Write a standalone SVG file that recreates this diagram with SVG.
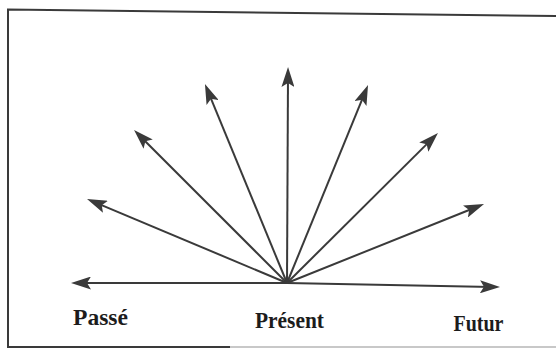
<svg xmlns="http://www.w3.org/2000/svg" width="556" height="349" viewBox="0 0 556 349">
  <style>
    .ray { stroke: #3a3a3a; stroke-width: 2; fill: none; marker-end: url(#head); }
    .label { font-family: "Liberation Serif", "Times New Roman", serif; font-weight: bold; font-size: 24px; fill: #1c1c1c; }
    .frame { stroke: #3a3a3a; stroke-width: 2; fill: none; }
  </style>
  <defs>
    <marker id="head" markerUnits="userSpaceOnUse" viewBox="0 0 20 13" markerWidth="20" markerHeight="13" refX="12" refY="6.5" orient="auto">
      <path d="M0,0 L20,6.5 L0,13 L4,6.5 Z" fill="#3a3a3a"/>
    </marker>
  </defs>
  <rect width="556" height="349" fill="#ffffff"/>
  <g id="frame">
    <polyline class="frame" points="556,16 8,9.5 8,347 230,347"/>
    <line x1="230" y1="347" x2="556" y2="347" stroke="#c8c8c8" stroke-width="2"/>
  </g>
  <g id="connectors">
    <line class="ray" x1="287" y1="283" x2="79" y2="283"/>
    <line class="ray" x1="287" y1="283" x2="492" y2="286.9"/>
    <line class="ray" x1="287" y1="283" x2="94.4" y2="202.1"/>
    <line class="ray" x1="287" y1="283" x2="139.7" y2="135.7"/>
    <line class="ray" x1="287" y1="283" x2="208" y2="91.4"/>
    <line class="ray" x1="287" y1="283" x2="288" y2="75"/>
    <line class="ray" x1="287" y1="283" x2="365" y2="92.4"/>
    <line class="ray" x1="287" y1="283" x2="432.3" y2="138.6"/>
    <line class="ray" x1="287" y1="283" x2="476.6" y2="207"/>
  </g>
  <g id="passe">
    <text class="label" x="73" y="325" textLength="55" lengthAdjust="spacingAndGlyphs">Passé</text>
  </g>
  <g id="present">
    <text class="label" x="255" y="328" textLength="69" lengthAdjust="spacingAndGlyphs">Présent</text>
  </g>
  <g id="futur">
    <text class="label" x="453.5" y="331" textLength="50" lengthAdjust="spacingAndGlyphs">Futur</text>
  </g>
</svg>
